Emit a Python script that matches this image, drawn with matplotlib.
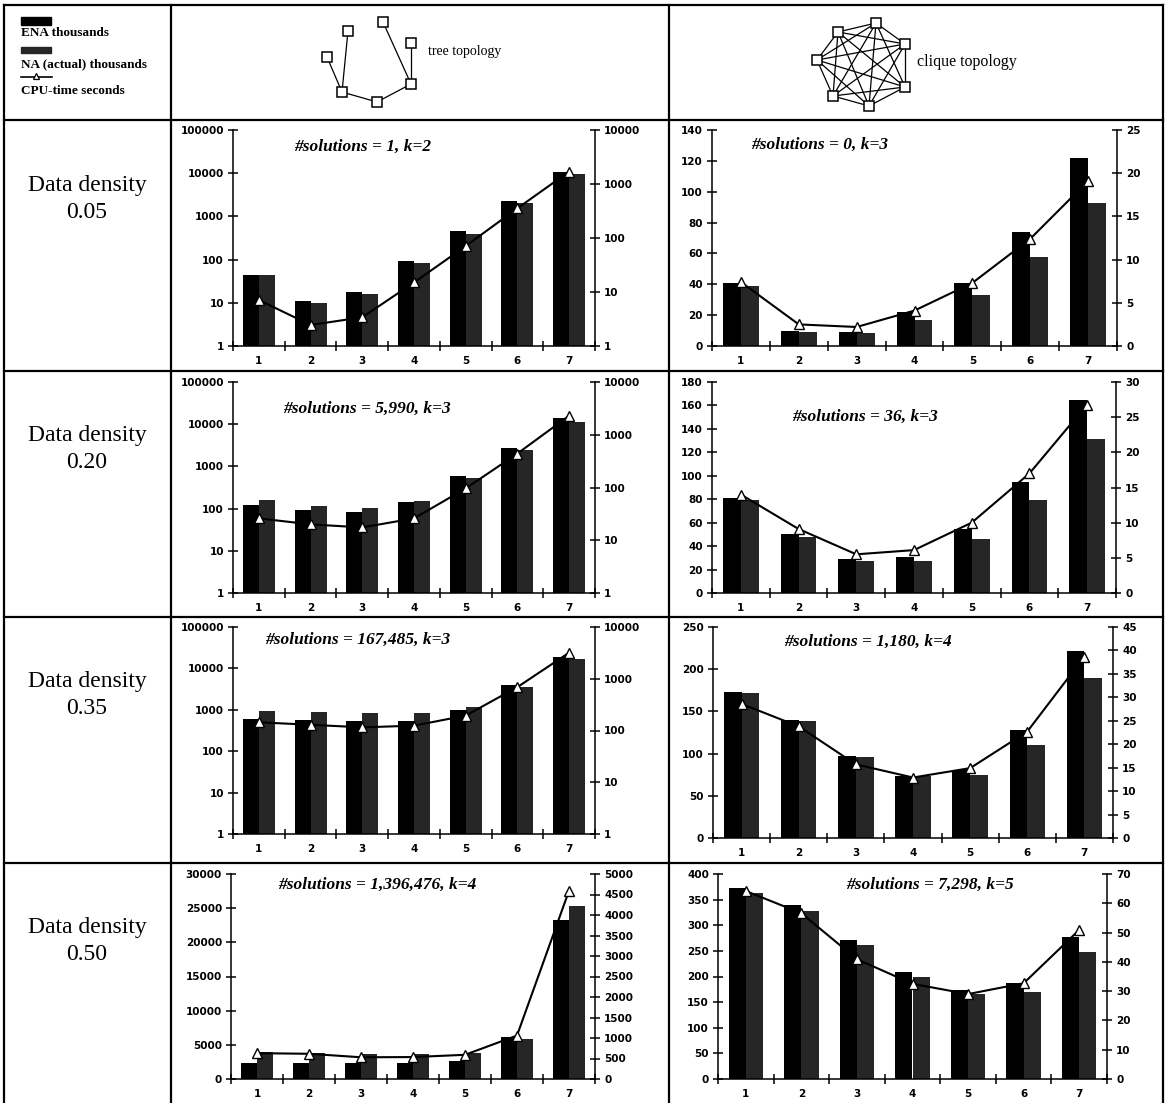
import matplotlib
matplotlib.use('Agg')
import matplotlib.pyplot as plt
import numpy as np
from matplotlib.ticker import FuncFormatter, FixedLocator, NullLocator
from matplotlib.patches import Rectangle
from matplotlib.font_manager import FontProperties

W, H = 1167, 1103

# ---------------- data ----------------
categories = [1, 2, 3, 4, 5, 6, 7]
series_names = ["ENA thousands", "NA (actual) thousands", "CPU-time seconds"]
row_labels = ["0.05", "0.20", "0.35", "0.50"]

# density 0.05
ena_tree_05 = [44, 11, 18, 95, 470, 2300, 10500]
na_tree_05 = [43, 10, 16, 82, 390, 2000, 9400]
cpu_tree_05 = [7.1, 2.45, 3.4, 15, 71, 355, 1700]
ena_clique_05 = [41, 10, 9, 22, 41, 74, 122]
na_clique_05 = [39, 9, 8.5, 17, 33, 58, 93]
cpu_clique_05 = [7.4, 2.5, 2.2, 4.1, 7.3, 12.4, 19.1]

# density 0.20
ena_tree_20 = [125, 95, 82, 140, 590, 2800, 14000]
na_tree_20 = [160, 118, 105, 155, 530, 2400, 11500]
cpu_tree_20 = [26, 20, 17.5, 26, 96, 440, 2300]
ena_clique_20 = [81, 50, 29, 31, 55, 95, 165]
na_clique_20 = [79, 48, 27.5, 27.5, 46, 79, 131]
cpu_clique_20 = [14.0, 9.1, 5.5, 6.1, 10.0, 17.0, 26.8]

# density 0.35
ena_tree_35 = [610, 580, 550, 550, 1010, 3900, 18500]
na_tree_35 = [950, 890, 840, 840, 1200, 3500, 16500]
cpu_tree_35 = [144, 129, 115, 124, 194, 690, 3200]
ena_clique_35 = [173, 140, 97, 74, 81, 128, 221]
na_clique_35 = [172, 139, 96, 73, 75, 110, 190]
cpu_clique_35 = [28.6, 23.8, 15.7, 12.9, 14.9, 22.7, 38.7]

# density 0.50
ena_tree_50 = [2400, 2350, 2350, 2350, 2700, 6100, 23300]
na_tree_50 = [3950, 3800, 3650, 3650, 3800, 5900, 25300]
cpu_tree_50 = [630, 615, 530, 535, 590, 1060, 4590]
ena_clique_50 = [372, 340, 271, 209, 173, 188, 278]
na_clique_50 = [362, 328, 262, 200, 166, 169, 247]
cpu_clique_50 = [64.2, 56.6, 40.9, 32.5, 29.0, 32.7, 50.9]

annotations = ["#solutions = 1, k=2", "#solutions = 0, k=3",
               "#solutions = 5,990, k=3", "#solutions = 36, k=3",
               "#solutions = 167,485, k=3", "#solutions = 1,180, k=4",
               "#solutions = 1,396,476, k=4", "#solutions = 7,298, k=5"]

# ---------------- layout / style ----------------
panels = [
    dict(box=(233, 595, 130, 346), log=True, lt=[1, 10, 100, 1000, 10000, 100000], rt=[1, 10, 100, 1000, 10000],
         data=(ena_tree_05, na_tree_05, cpu_tree_05), ann=(363, 147)),
    dict(box=(712, 1117, 130, 346), log=False, lt=list(range(0, 141, 20)), rt=list(range(0, 26, 5)),
         data=(ena_clique_05, na_clique_05, cpu_clique_05), ann=(820, 145)),
    dict(box=(233, 595, 382, 593), log=True, lt=[1, 10, 100, 1000, 10000, 100000], rt=[1, 10, 100, 1000, 10000],
         data=(ena_tree_20, na_tree_20, cpu_tree_20), ann=(367, 409)),
    dict(box=(712, 1116, 382, 593), log=False, lt=list(range(0, 181, 20)), rt=list(range(0, 31, 5)),
         data=(ena_clique_20, na_clique_20, cpu_clique_20), ann=(865, 417)),
    dict(box=(233, 595, 627, 834), log=True, lt=[1, 10, 100, 1000, 10000, 100000], rt=[1, 10, 100, 1000, 10000],
         data=(ena_tree_35, na_tree_35, cpu_tree_35), ann=(358, 640)),
    dict(box=(713, 1113, 627, 838), log=False, lt=list(range(0, 251, 50)), rt=list(range(0, 46, 5)),
         data=(ena_clique_35, na_clique_35, cpu_clique_35), ann=(868, 642)),
    dict(box=(231, 595, 874, 1079), log=False, lt=list(range(0, 30001, 5000)), rt=list(range(0, 5001, 500)),
         data=(ena_tree_50, na_tree_50, cpu_tree_50), ann=(377, 885)),
    dict(box=(718, 1107, 874, 1079), log=False, lt=list(range(0, 401, 50)), rt=list(range(0, 71, 10)),
         data=(ena_clique_50, na_clique_50, cpu_clique_50), ann=(930, 885)),
]

ENA_COLOR = 'black'
NA_COLOR = '#262626'
TICKFONT = dict(family='DejaVu Sans', weight='bold', size=7.5)
SERIF = 'Liberation Serif'

fig = plt.figure(figsize=(W / 100, H / 100), dpi=100)

# overlay in pixel coordinates for table and decorations
ov = fig.add_axes([0, 0, 1, 1], zorder=0)
ov.set_xlim(0, W)
ov.set_ylim(H, 0)
ov.axis('off')

lw_tab = 1.6
for xv in [4, 171, 669, 1163]:
    ov.plot([xv, xv], [5, H], color='black', lw=lw_tab)
for yv in [5, 120, 371, 617, 863]:
    ov.plot([4, 1163], [yv, yv], color='black', lw=lw_tab)

# legend (top-left cell)
ov.add_patch(Rectangle((21, 17), 30, 8, color=ENA_COLOR))
ov.text(21, 33, series_names[0], family=SERIF, weight='bold', size=9.5, va='center', ha='left')
ov.add_patch(Rectangle((21, 47), 30, 6, color=NA_COLOR))
ov.text(21, 64, series_names[1], family=SERIF, weight='bold', size=9.5, va='center', ha='left')
ov.plot([21, 52], [77, 77], color='black', lw=1.2)
ov.plot([36], [76], marker='^', ms=5, mfc='white', mec='black', mew=0.9)
ov.text(21, 91, series_names[2], family=SERIF, weight='bold', size=9.5, va='center', ha='left')

# tree topology
tree_nodes = [(327, 57), (348, 31), (383, 22), (411, 43), (342, 92), (377, 102), (411, 84)]
tree_edges = [(0, 4), (1, 4), (4, 5), (5, 6), (6, 3), (2, 6)]
for a, b in tree_edges:
    ov.plot([tree_nodes[a][0], tree_nodes[b][0]], [tree_nodes[a][1], tree_nodes[b][1]], color='black', lw=0.9)
ov.plot([p[0] for p in tree_nodes], [p[1] for p in tree_nodes], ls='none', marker='s', ms=7,
        mfc='white', mec='black', mew=1.1)
ov.text(428, 52, "tree topology", family=SERIF, size=10, va='center', ha='left')

# clique topology
clique_nodes = [(817, 60), (838, 32), (876, 23), (905, 44), (905, 87), (869, 106), (833, 96)]
for i in range(len(clique_nodes)):
    for j in range(i + 1, len(clique_nodes)):
        ov.plot([clique_nodes[i][0], clique_nodes[j][0]], [clique_nodes[i][1], clique_nodes[j][1]],
                color='black', lw=0.9)
ov.plot([p[0] for p in clique_nodes], [p[1] for p in clique_nodes], ls='none', marker='s', ms=7,
        mfc='white', mec='black', mew=1.1)
ov.text(917, 62, "clique topology", family=SERIF, size=11.5, va='center', ha='left')

# row labels
for top, lab in zip([120, 371, 617, 863], row_labels):
    ov.text(87, top + 65, "Data density", family=SERIF, size=17, ha='center', va='center')
    ov.text(87, top + 92, lab, family=SERIF, size=17, ha='center', va='center')

x = np.array(categories, dtype=float)
bw = 0.31
for p, ann in zip(panels, annotations):
    x0, x1, yt, yb = p['box']
    ax = fig.add_axes([x0 / W, 1 - yb / H, (x1 - x0) / W, (yb - yt) / H], zorder=2)
    ax.patch.set_alpha(0)
    ena, na, cpu = p['data']
    lt, rt = p['lt'], p['rt']
    if p['log']:
        ax.set_yscale('log')
    base = lt[0]
    ax.bar(x - bw / 2, np.array(ena) - base, bottom=base, width=bw, color=ENA_COLOR, linewidth=0)
    ax.bar(x + bw / 2, np.array(na) - base, bottom=base, width=bw, color=NA_COLOR, linewidth=0)
    ax.set_xlim(0.5, 7.5)
    ax.set_ylim(lt[0], lt[-1])
    ax.yaxis.set_major_locator(FixedLocator(lt))
    ax.yaxis.set_minor_locator(NullLocator())
    ax.yaxis.set_major_formatter(FuncFormatter(lambda v, pos: f"{int(round(v))}"))
    ax.set_xticks(categories)
    ax.set_xticks(np.arange(0.5, 7.6, 1.0), minor=True)
    ax.tick_params(axis='x', which='major', length=0, pad=7)
    ax.tick_params(axis='x', which='minor', direction='inout', length=7, width=1.1)
    ax.tick_params(axis='y', which='major', direction='inout', length=7, width=1.1, pad=3)
    for lab in ax.get_xticklabels() + ax.get_yticklabels():
        lab.set_fontproperties(FontProperties(**TICKFONT))
    for s in ['top', 'right']:
        ax.spines[s].set_visible(False)
    for s in ['left', 'bottom']:
        ax.spines[s].set_linewidth(1.1)

    ax2 = ax.twinx()
    if p['log']:
        ax2.set_yscale('log')
    ax2.plot(x, cpu, color='black', lw=1.5, marker='^', ms=7.5, mfc='white', mec='black', mew=1.0)
    ax2.set_ylim(rt[0], rt[-1])
    ax2.yaxis.set_major_locator(FixedLocator(rt))
    ax2.yaxis.set_minor_locator(NullLocator())
    ax2.yaxis.set_major_formatter(FuncFormatter(lambda v, pos: f"{int(round(v))}"))
    ax2.tick_params(axis='y', which='major', direction='inout', length=7, width=1.1, pad=3)
    for lab in ax2.get_yticklabels():
        lab.set_fontproperties(FontProperties(**TICKFONT))
    for s in ['top', 'left', 'bottom']:
        ax2.spines[s].set_visible(False)
    ax2.spines['right'].set_linewidth(1.1)

    ov.text(p['ann'][0], p['ann'][1], ann, family=SERIF, style='italic', weight='bold', size=12.5,
            ha='center', va='center')

fig.savefig('out.png', dpi=100)
